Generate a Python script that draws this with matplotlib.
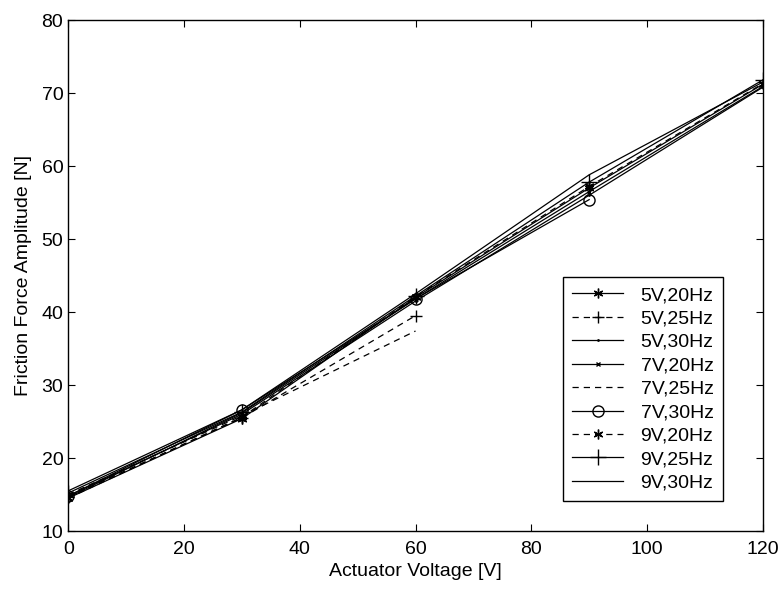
import matplotlib
matplotlib.use("Agg")
from matplotlib import pyplot as plt

plt.rcParams['font.family'] = ['Liberation Sans', 'DejaVu Sans']

# actuator voltage steps
volts = [0, 30, 60, 90, 120]

# friction force amplitude per test condition
f_5v20 = [14.5, 25.4, 42.0, 57.0, 71.2]
f_5v25 = [14.7, 25.5, 39.5]
f_5v30 = [14.8, 26.0, 41.5, 56.0, 70.8]
f_7v20 = [14.6, 26.2, 41.8, 56.5, 70.9]
f_7v25 = [15.0, 25.8, 37.4]
f_7v30 = [14.8, 26.6, 41.8, 55.4]
f_9v20 = [14.5, 25.6, 42.1, 57.2, 71.3]
f_9v25 = [15.2, 26.3, 42.2, 57.8, 71.8]
f_9v30 = [15.5, 26.6, 42.5, 58.8, 71.5]

labels = ['5V,20Hz', '5V,25Hz', '5V,30Hz', '7V,20Hz', '7V,25Hz',
          '7V,30Hz', '9V,20Hz', '9V,25Hz', '9V,30Hz']

fig = plt.figure(figsize=(7.84, 5.9), dpi=100)
ax = fig.add_axes([0.087, 0.1, 0.886, 0.866])

k = 'black'
lw = 0.9
star = (6, 2, 0)   # asterisk, like matlab '*'
dash = (5, 4)
ax.plot(volts[:len(f_5v20)], f_5v20, '-', color=k, lw=lw, marker=star, ms=7, mew=1, label=labels[0])
ax.plot(volts[:len(f_5v25)], f_5v25, '--', dashes=dash, color=k, lw=lw, marker='+', ms=8, label=labels[1])
ax.plot(volts[:len(f_5v30)], f_5v30, '-', color=k, lw=lw, marker='.', ms=2, label=labels[2])
ax.plot(volts[:len(f_7v20)], f_7v20, '-', color=k, lw=lw, marker='x', ms=3.5, label=labels[3])
ax.plot(volts[:len(f_7v25)], f_7v25, '--', dashes=dash, color=k, lw=lw, label=labels[4])
ax.plot(volts[:len(f_7v30)], f_7v30, '-', color=k, lw=lw, marker='o', ms=8, mfc='none', label=labels[5])
ax.plot(volts[:len(f_9v20)], f_9v20, '--', dashes=dash, color=k, lw=lw, marker=star, ms=7, mew=1, label=labels[6])
ax.plot(volts[:len(f_9v25)], f_9v25, '-', color=k, lw=lw, marker='+', ms=12, label=labels[7])
ax.plot(volts[:len(f_9v30)], f_9v30, '-', color=k, lw=lw, label=labels[8])

ax.set_xlim(0, 120)
ax.set_ylim(10, 80)
ax.set_xticks([0, 20, 40, 60, 80, 100, 120])
ax.set_yticks([10, 20, 30, 40, 50, 60, 70, 80])
ax.tick_params(direction='in', top=True, right=True, length=5, labelsize=14)
ax.tick_params(axis='x', pad=7)
for s in ax.spines.values():
    s.set_linewidth(1.0)

ax.set_xlabel('Actuator Voltage [V]', fontsize=14, labelpad=4)
ax.set_ylabel('Friction Force Amplitude [N]', fontsize=14, labelpad=7)

leg = ax.legend(loc='lower right', bbox_to_anchor=(0.943, 0.058), fontsize=14,
                fancybox=False, framealpha=1, edgecolor='black',
                handlelength=2.6, handletextpad=0.9, labelspacing=0.3,
                borderpad=0.5, borderaxespad=0)
leg.get_frame().set_linewidth(1.0)

fig.savefig('out.png', dpi=100)
